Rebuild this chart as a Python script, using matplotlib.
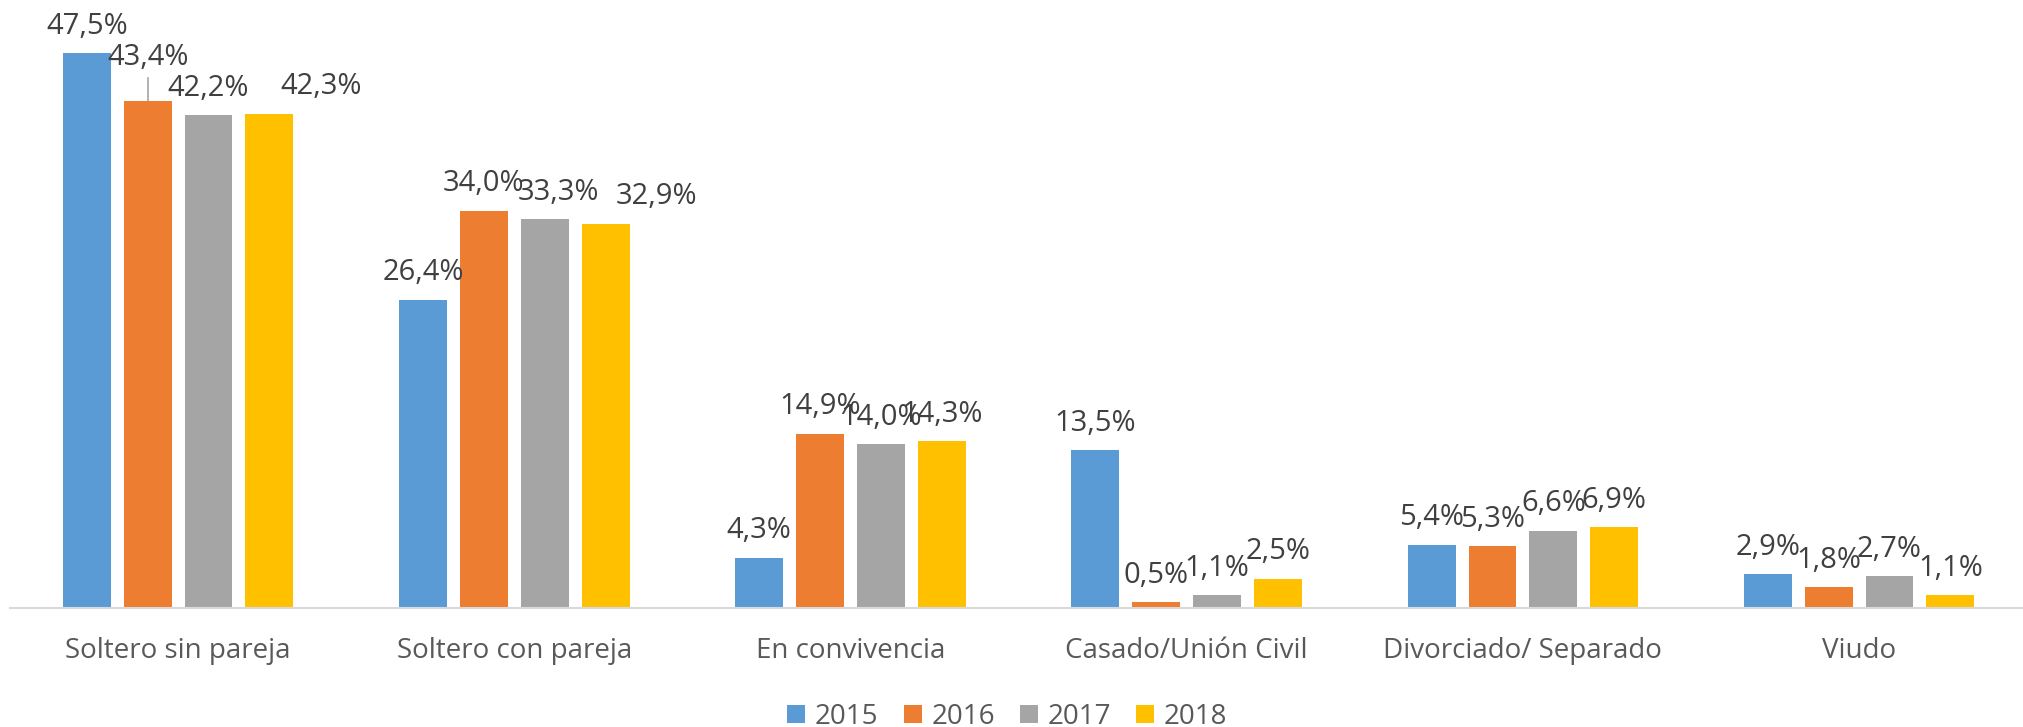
import numpy as np
import matplotlib.pyplot as plt

plt.rcParams['font.family'] = ['Open Sans', 'DejaVu Sans']

categories = ["Soltero sin pareja", "Soltero con pareja", "En convivencia",
              "Casado/Unión Civil", "Divorciado/ Separado", "Viudo"]
years = ["2015", "2016", "2017", "2018"]
v2015 = [47.5, 26.4, 4.3, 13.5, 5.4, 2.9]
v2016 = [43.4, 34.0, 14.9, 0.5, 5.3, 1.8]
v2017 = [42.2, 33.3, 14.0, 1.1, 6.6, 2.7]
v2018 = [42.3, 32.9, 14.3, 2.5, 6.9, 1.1]
series = [v2015, v2016, v2017, v2018]
colors = ["#5B9BD5", "#ED7D31", "#A5A5A5", "#FFC000"]

# label nudges (points) where the original labels were dragged by hand
nudge = {(0, 1): (0, 12), (0, 3): (37, 0), (1, 2): (10, 0), (1, 3): (37, 0)}

fig = plt.figure(figsize=(20.23, 7.27), dpi=100)
ax = fig.add_axes([10 / 2023, 0.1637, 2013 / 2023, 0.8355])

x = np.arange(len(categories))
step = 0.181
width = 0.1424
for i, vals in enumerate(series):
    xs = x + (i - 1.5) * step
    ax.bar(xs, vals, width, color=colors[i], label=years[i], zorder=2)
    for j, v in enumerate(vals):
        dx, dy = nudge.get((j, i), (0, 0))
        ax.annotate(f"{v:.1f}%".replace(".", ","), (xs[j], v),
                    xytext=(dx, 14 + dy), textcoords="offset points",
                    ha="center", va="baseline", fontsize=21, color="#404040",
                    annotation_clip=False)
        if dy > 0:
            ax.plot([xs[j], xs[j]], [v, v + 2.0], color="#A6A6A6", lw=1.2, zorder=1)

ax.set_xlim(-0.5, -0.5 + 2013 / 336.2)
ax.set_ylim(0, 52)
ax.set_xticks(x)
ax.set_xticklabels(categories, fontsize=20, color="#595959")
ax.tick_params(axis="x", length=0, pad=21)
ax.set_yticks([])
for s in ["top", "right", "left"]:
    ax.spines[s].set_visible(False)
ax.spines["bottom"].set_color("#D9D9D9")
ax.spines["bottom"].set_linewidth(1.5)

fig.legend(loc="center", bbox_to_anchor=(0.498, 0.014), ncol=4, frameon=False,
           fontsize=20, labelcolor="#595959", handlelength=0.65, handleheight=0.65,
           handletextpad=0.35, columnspacing=0.9)

fig.savefig("out.png", dpi=100)
